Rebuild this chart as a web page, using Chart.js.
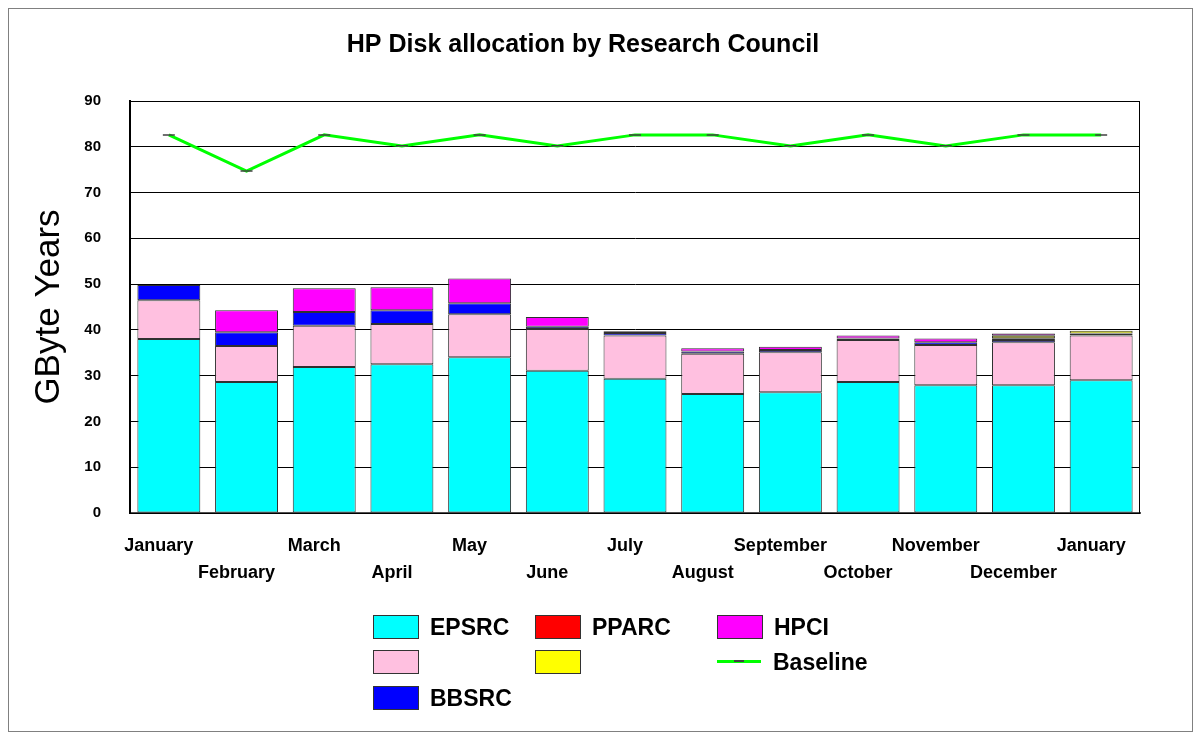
<!DOCTYPE html>
<html>
<head>
<meta charset="utf-8">
<script src="https://cdn.jsdelivr.net/npm/chart.js@4.4.1/dist/chart.umd.min.js"></script>
<style>
  html, body { margin: 0; padding: 0; background: #fff; }
  #wrap { position: relative; width: 1202px; height: 740px; }
  #frame { position: absolute; left: 8px; top: 8px; width: 1183px; height: 722px; border: 1px solid #808080; pointer-events: none; }
  canvas { position: absolute; left: 0; top: 0; }
  .lg { position: absolute; font-family: "Liberation Sans", Arial, sans-serif; font-weight: bold; font-size: 23px; color: #000; }
  .box { position: absolute; width: 44px; height: 22px; border: 1px solid #333; }
  .lgtext { position: absolute; line-height: 24px; white-space: nowrap; }
</style>
</head>
<body>
<div id="wrap">
  <canvas id="c" width="1202" height="740"></canvas>
  <div id="frame"></div>
  <div id="legend" class="lg"></div>
</div>
<script>
const categories = [
  ['January', ''], ['', 'February'], ['March', ''], ['', 'April'], ['May', ''], ['', 'June'],
  ['July', ''], ['', 'August'], ['September', ''], ['', 'October'], ['November', ''], ['', 'December'], ['January', '']
];
const epsrc    = [38.0, 28.6, 31.9, 32.5, 34.0, 31.1, 29.3, 26.0, 26.4, 28.6, 27.9, 27.9, 29.0];
const pinkUnnamed = [8.5, 7.9, 9.0, 8.8, 9.4, 9.1, 9.5, 8.8, 8.7, 9.2, 8.8, 9.4, 9.8];
const bbsrc    = [3.3, 3.0, 3.0, 3.0, 2.4, 0.5, 0.5, 0.5, 0.5, 0.3, 0.6, 0.5, null];
const pparc    = [null, null, null, null, null, null, null, null, null, null, null, 0.4, 0.4];
const yellowUnnamed = [null, null, null, null, null, null, null, null, null, null, null, 0.5, 0.6];
const hpci     = [null, 4.8, 5.2, 5.0, 5.4, 2.1, 0.4, 0.7, 0.7, 0.7, 0.8, 0.5, null];
const baseline = [82.6, 74.7, 82.6, 80.2, 82.6, 80.2, 82.6, 82.6, 80.2, 82.6, 80.2, 82.6, 82.6];
const yTicks = [0, 10, 20, 30, 40, 50, 60, 70, 80, 90];

const FONT = "'Liberation Sans', Arial, sans-serif";

function barDs(label, data, color) {
  return {
    type: 'bar', label: label, data: data, backgroundColor: color,
    borderColor: '#303030', borderWidth: 1, borderSkipped: false,
    stack: 'alloc', barPercentage: 0.81, categoryPercentage: 1.0, order: 2
  };
}

const frameBorder = {
  id: 'frameBorder',
  afterDatasetsDraw(chart) {
    const a = chart.chartArea, ctx = chart.ctx;
    ctx.save();
    ctx.strokeStyle = '#000';
    ctx.lineWidth = 1;
    ctx.strokeRect(a.left + 0.5, a.top + 0.5, a.right - a.left - 1, a.bottom - a.top);
    ctx.restore();
  }
};

new Chart(document.getElementById('c'), {
  data: {
    labels: categories,
    datasets: [
      barDs('EPSRC', epsrc, '#00ffff'),
      barDs('', pinkUnnamed, '#ffc0e0'),
      barDs('BBSRC', bbsrc, '#0000ff'),
      barDs('PPARC', pparc, '#ff0000'),
      barDs('', yellowUnnamed, '#ffff00'),
      barDs('HPCI', hpci, '#ff00ff'),
      {
        type: 'line', label: 'Baseline', data: baseline, stack: 'base',
        borderColor: '#00ff00', borderWidth: 3, fill: false, tension: 0,
        pointStyle: 'line', pointRadius: 6, pointHoverRadius: 6,
        pointBorderColor: '#404040', pointBorderWidth: 1.5, pointBackgroundColor: '#404040',
        order: 1
      }
    ]
  },
  options: {
    responsive: false,
    animation: false,
    events: [],
    layout: { padding: { left: 26, right: 62, top: 0, bottom: 152 } },
    plugins: {
      legend: { display: false },
      tooltip: { enabled: false },
      title: {
        display: true,
        text: 'HP Disk allocation by Research Council',
        color: '#000',
        font: { family: FONT, size: 25, weight: 'bold', lineHeight: 1.2 },
        padding: { top: 30, bottom: 41 }
      }
    },
    scales: {
      x: {
        stacked: true,
        offset: true,
        grid: { display: false, drawTicks: false },
        border: { display: true, color: '#505050', width: 2 },
        ticks: {
          color: '#000', autoSkip: false, maxRotation: 0, minRotation: 0, padding: 20,
          labelOffset: -10,
          font: { family: FONT, size: 18, weight: 'bold', lineHeight: 1.5 }
        },
        afterFit(scale) { scale.height = 75; }
      },
      y: {
        stacked: true,
        min: 0, max: 90,
        afterBuildTicks(scale) { scale.ticks = yTicks.map(v => ({ value: v })); },
        grid: { color: '#000', lineWidth: 1, drawTicks: false },
        border: { display: true, color: '#000', width: 2 },
        ticks: {
          color: '#000', padding: 29,
          font: { family: FONT, size: 15, weight: 'bold' }
        },
        title: {
          display: true, text: 'GByte Years', color: '#000',
          font: { family: FONT, size: 35, weight: 'normal', lineHeight: 1.2 },
          padding: { top: 2, bottom: 0 }
        },
        afterFit(scale) { scale.width = 104; }
      }
    }
  },
  plugins: [frameBorder]
});

// Legend (column-major, 3 rows)
const legendItems = [
  { text: 'EPSRC', color: '#00ffff', x: 373, y: 615 },
  { text: '', color: '#ffc0e0', x: 373, y: 650 },
  { text: 'BBSRC', color: '#0000ff', x: 373, y: 686 },
  { text: 'PPARC', color: '#ff0000', x: 535, y: 615 },
  { text: '', color: '#ffff00', x: 535, y: 650 },
  { text: 'HPCI', color: '#ff00ff', x: 717, y: 615 }
];
const lg = document.getElementById('legend');
legendItems.forEach(it => {
  const b = document.createElement('div');
  b.className = 'box';
  b.style.left = it.x + 'px'; b.style.top = it.y + 'px'; b.style.background = it.color;
  lg.appendChild(b);
  if (it.text) {
    const t = document.createElement('div');
    t.className = 'lgtext';
    t.textContent = it.text;
    t.style.left = (it.x + 57) + 'px'; t.style.top = (it.y) + 'px';
    lg.appendChild(t);
  }
});
// Baseline legend entry
const ln = document.createElement('div');
ln.style.cssText = 'position:absolute;left:717px;top:660px;width:44px;height:3px;background:#00ff00;';
const dash = document.createElement('div');
dash.style.cssText = 'position:absolute;left:17px;top:0px;width:10px;height:2px;background:#404040;';
ln.appendChild(dash);
lg.appendChild(ln);
const bt = document.createElement('div');
bt.className = 'lgtext';
bt.textContent = 'Baseline';
bt.style.left = '773px'; bt.style.top = '650px';
lg.appendChild(bt);
</script>
</body>
</html>
